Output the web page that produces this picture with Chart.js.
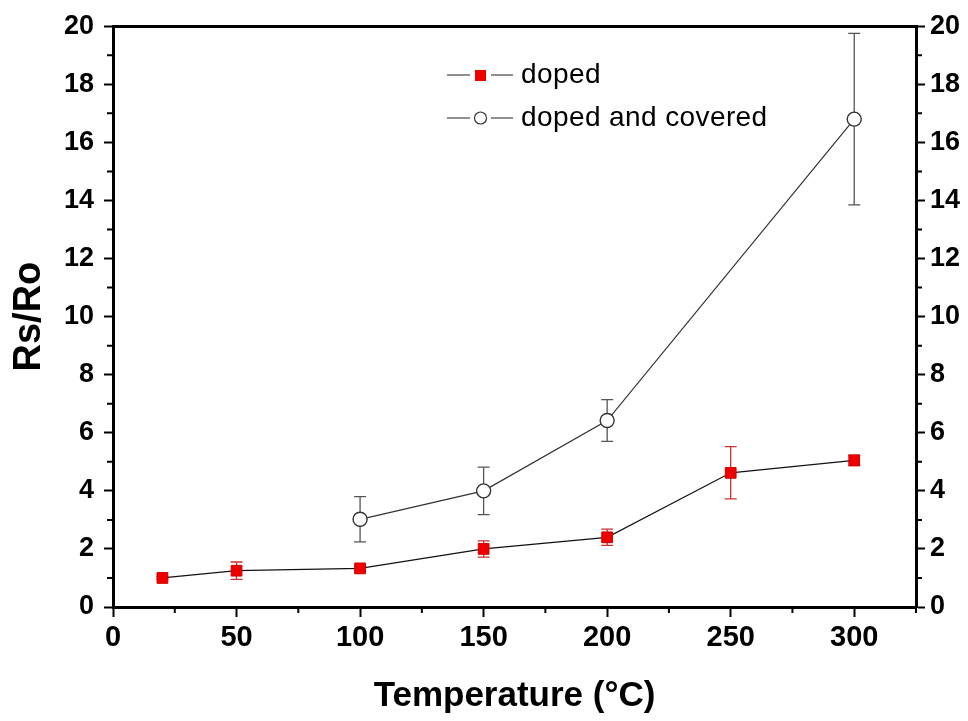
<!DOCTYPE html>
<html>
<head>
<meta charset="utf-8">
<title>Rs/Ro vs Temperature</title>
<script src="https://cdn.jsdelivr.net/npm/chart.js@4/dist/chart.umd.min.js"></script>
<style>
  html, body { margin: 0; padding: 0; background: #fff; }
  canvas { display: block; }
</style>
</head>
<body>
<canvas id="rs-chart" width="968" height="721"></canvas>
<script>
// Chart data
const tempDoped = [20, 50, 100, 150, 200, 250, 300];
const rsDoped = [1.0, 1.25, 1.33, 2.0, 2.4, 4.62, 5.05];
const errDoped = [0.05, 0.3, 0.08, 0.28, 0.28, 0.9, 0.18];

const tempCovered = [100, 150, 200, 300];
const rsCovered = [3.02, 4.0, 6.42, 16.8];
const errCovered = [0.78, 0.82, 0.72, 2.95];

const xTicks = [0, 50, 100, 150, 200, 250, 300];
const xMinorTicks = [25, 75, 125, 175, 225, 275, 325];
const yTicks = [0, 2, 4, 6, 8, 10, 12, 14, 16, 18, 20];
const yMinorTicks = [1, 3, 5, 7, 9, 11, 13, 15, 17, 19];

const seriesNames = ["doped", "doped and covered"];

const FONT = "'Liberation Sans', Arial, Helvetica, sans-serif";

function toPoints(xs, ys) {
  return xs.map((x, i) => ({ x: x, y: ys[i] }));
}

// vertical error bars with caps, drawn under the markers
const errorBarPlugin = {
  id: "errorBars",
  beforeDatasetsDraw(chart) {
    const ctx = chart.ctx;
    const xs = chart.scales.x;
    const ys = chart.scales.y;
    chart.data.datasets.forEach((ds) => {
      if (!ds.errors) return;
      ctx.save();
      ctx.strokeStyle = ds.errorColor;
      ctx.lineWidth = 1.3;
      ds.data.forEach((p, i) => {
        const e = ds.errors[i];
        if (!e) return;
        const px = xs.getPixelForValue(p.x);
        const top = ys.getPixelForValue(p.y + e);
        const bot = ys.getPixelForValue(p.y - e);
        ctx.beginPath();
        ctx.moveTo(px, top);
        ctx.lineTo(px, bot);
        ctx.moveTo(px - 6, top);
        ctx.lineTo(px + 6, top);
        ctx.moveTo(px - 6, bot);
        ctx.lineTo(px + 6, bot);
        ctx.stroke();
      });
      ctx.restore();
    });
  },
};

// short minor ticks on the bottom, left and right axes
const minorTickPlugin = {
  id: "minorTicks",
  afterDraw(chart) {
    const ctx = chart.ctx;
    const area = chart.chartArea;
    const xs = chart.scales.x;
    const ys = chart.scales.y;
    ctx.save();
    ctx.strokeStyle = "#000";
    ctx.lineWidth = 2;
    ctx.beginPath();
    xMinorTicks.forEach((v) => {
      const px = xs.getPixelForValue(v);
      ctx.moveTo(px, area.bottom);
      ctx.lineTo(px, area.bottom + 6);
    });
    yMinorTicks.forEach((v) => {
      const py = ys.getPixelForValue(v);
      ctx.moveTo(area.left, py);
      ctx.lineTo(area.left - 6, py);
      ctx.moveTo(area.right, py);
      ctx.lineTo(area.right + 6, py);
    });
    ctx.stroke();
    ctx.restore();
  },
};

// Origin-style legend: line - marker - line, then the name
const legendPlugin = {
  id: "lineLegend",
  afterDraw(chart) {
    const ctx = chart.ctx;
    const rows = [75, 118];
    ctx.save();
    ctx.font = "28px " + FONT;
    ctx.letterSpacing = "0.4px";
    ctx.textBaseline = "middle";
    ctx.fillStyle = "#000";
    chart.data.datasets.forEach((ds, i) => {
      const y = rows[i];
      ctx.strokeStyle = "#222";
      ctx.lineWidth = 1.2;
      ctx.beginPath();
      ctx.moveTo(447, y);
      ctx.lineTo(470, y);
      ctx.moveTo(491, y);
      ctx.lineTo(513, y);
      ctx.stroke();
      if (ds.pointStyle === "rect") {
        ctx.fillStyle = ds.backgroundColor;
        ctx.fillRect(475, y - 5, 11, 11);
      } else {
        ctx.fillStyle = "#fff";
        ctx.strokeStyle = ds.borderColor;
        ctx.lineWidth = 1.2;
        ctx.beginPath();
        ctx.arc(480.5, y, 6, 0, Math.PI * 2);
        ctx.fill();
        ctx.stroke();
      }
      ctx.fillStyle = "#000";
      ctx.fillText(ds.label, 521, y);
    });
    ctx.restore();
  },
};

function createRsChart() {
  const ctx = document.getElementById("rs-chart");

  new Chart(ctx, {
    type: "scatter",
    data: {
      datasets: [
        {
          label: seriesNames[0],
          data: toPoints(tempDoped, rsDoped),
          errors: errDoped,
          errorColor: "#c83232",
          showLine: true,
          borderColor: "#111",
          borderWidth: 1.2,
          pointStyle: "rect",
          pointRadius: 7.6,
          pointBackgroundColor: "#ee0000",
          backgroundColor: "#ee0000",
          pointBorderColor: "#d00000",
          pointBorderWidth: 1,
        },
        {
          label: seriesNames[1],
          data: toPoints(tempCovered, rsCovered),
          errors: errCovered,
          errorColor: "#555",
          showLine: true,
          borderColor: "#333",
          borderWidth: 1.2,
          pointStyle: "circle",
          pointRadius: 7,
          pointBackgroundColor: "#fff",
          pointBorderColor: "#333",
          pointBorderWidth: 1.4,
        },
      ],
    },
    options: {
      responsive: false,
      animation: false,
      layout: { padding: 0 },
      plugins: {
        legend: { display: false },
        tooltip: { enabled: false },
      },
      scales: {
        x: {
          type: "linear",
          position: "bottom",
          min: 0,
          max: 325,
          afterBuildTicks: (scale) => {
            scale.ticks = xTicks.map((v) => ({ value: v }));
          },
          afterFit: (scale) => {
            scale.height = 114;
          },
          ticks: {
            color: "#000",
            padding: 4,
            maxRotation: 0,
            font: { family: FONT, size: 29, weight: "bold" },
            callback: (v) => String(v),
          },
          grid: {
            drawOnChartArea: false,
            drawTicks: true,
            tickLength: 10,
            tickWidth: 2,
            tickColor: "#000",
          },
          border: { color: "#000", width: 3 },
          title: {
            display: true,
            text: "Temperature (°C)",
            color: "#000",
            font: { family: FONT, size: 35, weight: "bold" },
            padding: { top: 0, bottom: 4 },
          },
        },
        xTop: {
          type: "linear",
          position: "top",
          min: 0,
          max: 325,
          afterFit: (scale) => {
            scale.height = 25;
          },
          ticks: { display: false },
          grid: { drawOnChartArea: false, drawTicks: false },
          border: { color: "#000", width: 3 },
        },
        y: {
          type: "linear",
          position: "left",
          min: 0,
          max: 20,
          afterBuildTicks: (scale) => {
            scale.ticks = yTicks.map((v) => ({ value: v }));
          },
          afterFit: (scale) => {
            scale.width = 113;
          },
          ticks: {
            color: "#000",
            padding: 10,
            font: { family: FONT, size: 27, weight: "bold" },
            callback: (v) => String(v),
          },
          grid: {
            drawOnChartArea: false,
            drawTicks: true,
            tickLength: 9,
            tickWidth: 2,
            tickColor: "#000",
          },
          border: { color: "#000", width: 3 },
          title: {
            display: true,
            text: "Rs/Ro",
            color: "#000",
            font: { family: FONT, size: 38, weight: "bold" },
            padding: { top: 7, bottom: 0 },
          },
        },
        yRight: {
          type: "linear",
          position: "right",
          display: true,
          min: 0,
          max: 20,
          afterBuildTicks: (scale) => {
            scale.ticks = yTicks.map((v) => ({ value: v }));
          },
          afterFit: (scale) => {
            scale.width = 52;
          },
          ticks: {
            color: "#000",
            padding: 5,
            font: { family: FONT, size: 27, weight: "bold" },
            callback: (v) => String(v),
          },
          grid: {
            drawOnChartArea: false,
            drawTicks: true,
            tickLength: 9,
            tickWidth: 2,
            tickColor: "#000",
          },
          border: { color: "#000", width: 3 },
        },
      },
    },
    plugins: [errorBarPlugin, minorTickPlugin, legendPlugin],
  });
}

document.addEventListener("DOMContentLoaded", createRsChart);
</script>
</body>
</html>
